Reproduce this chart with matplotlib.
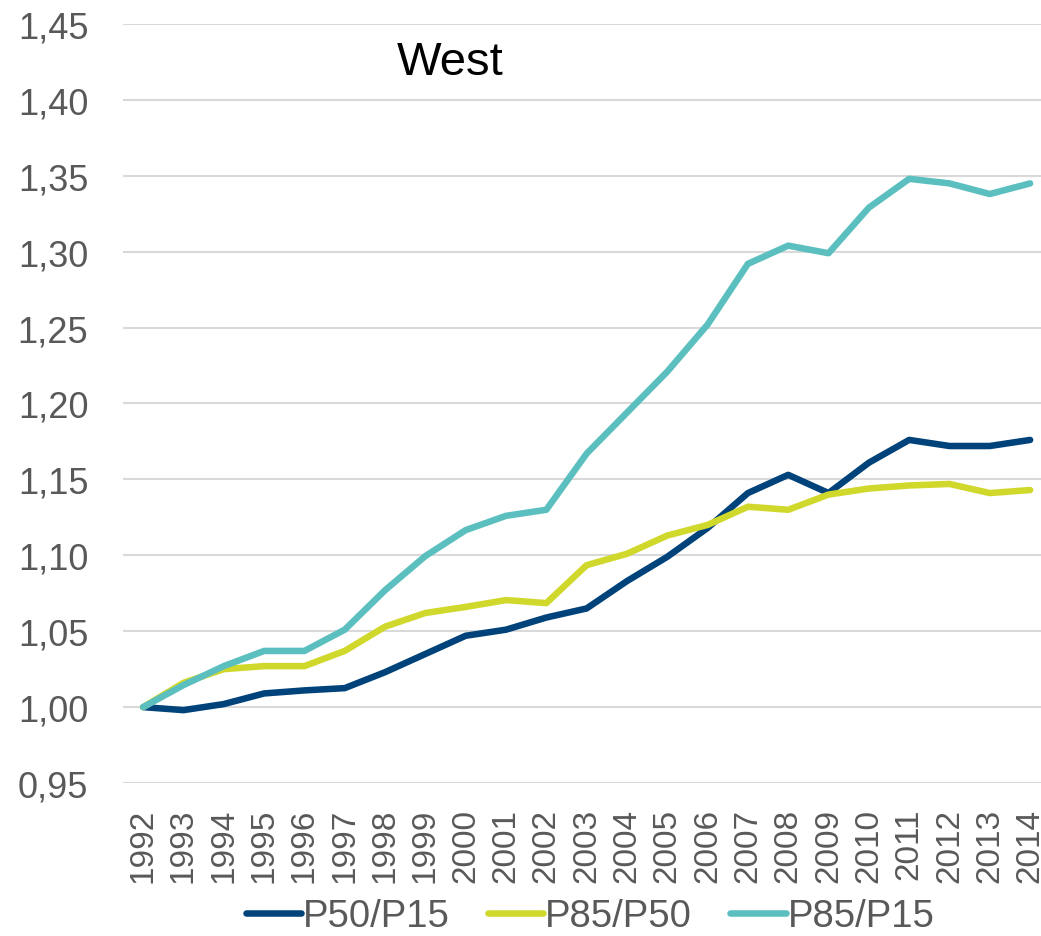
import matplotlib
matplotlib.use("Agg")
import matplotlib.pyplot as plt
from matplotlib.ticker import FuncFormatter

plt.rcParams['font.family'] = ['Liberation Sans', 'DejaVu Sans']

years = [str(y) for y in range(1992, 2015)]
p50_p15 = [1.000, 0.998, 1.002, 1.009, 1.011, 1.0125, 1.023, 1.035, 1.047, 1.051, 1.059,
           1.065, 1.083, 1.099, 1.118, 1.141, 1.153, 1.141, 1.161, 1.176, 1.172, 1.172, 1.176]
p85_p50 = [1.000, 1.016, 1.025, 1.027, 1.027, 1.037, 1.053, 1.062, 1.066, 1.0705, 1.0685,
           1.0935, 1.101, 1.113, 1.120, 1.132, 1.130, 1.140, 1.144, 1.146, 1.147, 1.141, 1.143]
p85_p15 = [1.000, 1.0145, 1.027, 1.037, 1.037, 1.051, 1.077, 1.0995, 1.1166, 1.126, 1.130,
           1.167, 1.194, 1.221, 1.252, 1.292, 1.304, 1.299, 1.329, 1.348, 1.345, 1.338, 1.345]
series_names = ['P50/P15', 'P85/P50', 'P85/P15']
colors = ['#00427A', '#D0D82C', '#5BBFC0']

fig = plt.figure(figsize=(10.41, 9.37), dpi=100)
ax = fig.add_axes([123/1041, 1 - 784/937, 918/1041, 759/937])

x = list(range(len(years)))
for vals, name, c in zip([p50_p15, p85_p50, p85_p15], series_names, colors):
    ax.plot(x, vals, color=c, lw=4.7, label=name, solid_capstyle='round', solid_joinstyle='round')

ax.set_ylim(0.95, 1.45)
ax.set_yticks([0.95 + 0.05 * i for i in range(11)])
ax.yaxis.set_major_formatter(FuncFormatter(lambda v, p: f"{v:.2f}".replace('.', ',')))
ax.set_xlim(-0.5, 22.27)
ax.set_xticks(x)
ax.set_xticklabels(years, rotation=90)
ax.grid(axis='y', color='#D9D9D9', lw=1.5)
ax.set_axisbelow(True)
for s in ax.spines.values():
    s.set_visible(False)
ax.tick_params(axis='both', length=0, colors='#595959')
ax.tick_params(axis='y', labelsize=26, pad=25)
ax.tick_params(axis='x', labelsize=24, pad=18)

ax.text(0.298, 0.95, 'West', transform=ax.transAxes, fontsize=34, color='black',
        ha='left', va='center')

leg = fig.legend(loc='center', bbox_to_anchor=(590/1041, 1 - 917/937), ncol=3, frameon=False,
                 fontsize=27.5, handlelength=1.45, handletextpad=0.05, columnspacing=1.0)
for t in leg.get_texts():
    t.set_color('#595959')

fig.savefig('out.png', dpi=100)
